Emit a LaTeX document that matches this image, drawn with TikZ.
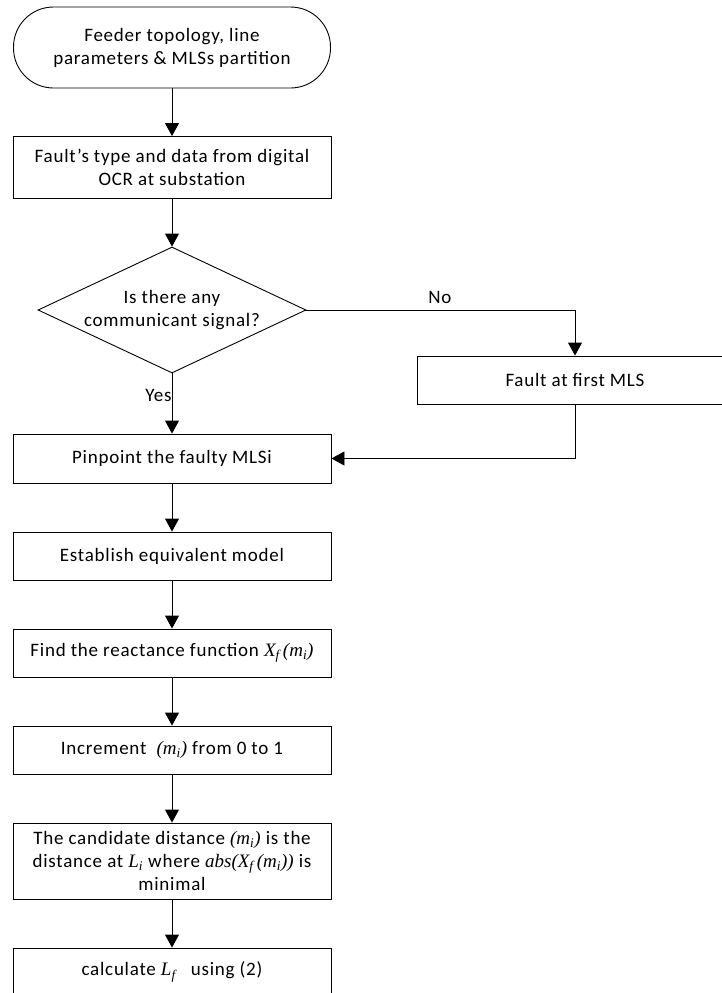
\documentclass[tikz,border=0pt]{standalone}
\usepackage[no-math]{fontspec}
\setmainfont{Carlito}[LetterSpace=4]
\newfontfamily\tnr{Liberation Serif}
\newcommand{\vi}[1]{{\tnr\itshape #1}}
\newcommand{\vs}[2]{{\tnr\itshape #1\textsubscript{#2}}}
\usetikzlibrary{shapes.geometric,arrows.meta}
\begin{document}
\begin{tikzpicture}[x=1pt,y=-1pt,
  txt/.style={font=\fontsize{19}{23}\selectfont},
  box/.style={txt, draw, line width=0.9pt, minimum width=318pt, inner sep=0pt, align=center},
  arr/.style={line width=0.9pt, -{Triangle[width=14pt,length=13pt]}},
  lab/.style={txt, inner sep=0pt}
]
\useasboundingbox (0,0) rectangle (721,993);

\node (start) [box, rounded corners=40pt, minimum width=317pt, minimum height=81pt] at (172,47.5)
  {Feeder topology, line\\parameters \& MLSs partition};
\node (data) [box, minimum height=62pt] at (172,167.5)
  {Fault’s type and data from digital\\OCR at substation};
\node (dec) [draw, line width=0.9pt, diamond, minimum width=268pt, minimum height=126pt, inner sep=0pt] at (172,310) {};
\node (dectxt) [lab, align=center] at (172,310) {Is there any\\communicant signal?};
\node (fault) [box, minimum width=316pt, minimum height=48pt] at (575,380) {Fault at first MLS};
\node (pin) [box, minimum height=49pt] at (172,458.5) {Pinpoint the faulty MLSi};
\node (est) [box, minimum height=48pt] at (172,556) {Establish equivalent model};
\node (find) [box, minimum height=48pt] at (172,653)
  {Find the reactance function \vs{X}{f}\,\vs{(m}{i}\vi{)}};
\node (inc) [box, minimum height=48pt] at (172,750)
  {Increment \ \vs{(m}{i}\vi{)} from 0 to 1};
\node (cand) [box, minimum height=76pt] at (172,861)
  {The candidate distance \vs{(m}{i}\vi{)} is the\\distance at \vs{L}{i} where \vi{abs(}\vs{X}{f}\,\vs{(m}{i}\vi{))} is\\minimal};
\node (calc) [box, minimum height=48pt] at (172,972) {calculate \vs{L}{f} \ \ using (2)};

\draw[arr] (start) -- (data);
\draw[arr] (data) -- (dec);
\draw[arr] (dec.east) -| (fault.north);
\node (no) [lab] at (440,297) {No};
\draw[arr] (dec.south) -- node[lab, left, pos=0.36] {Yes} (pin.north);
\draw[arr] (fault.south) |- (pin.east);
\draw[arr] (pin) -- (est);
\draw[arr] (est) -- (find);
\draw[arr] (find) -- (inc);
\draw[arr] (inc) -- (cand);
\draw[arr] (cand) -- (calc);
\end{tikzpicture}
\end{document}
